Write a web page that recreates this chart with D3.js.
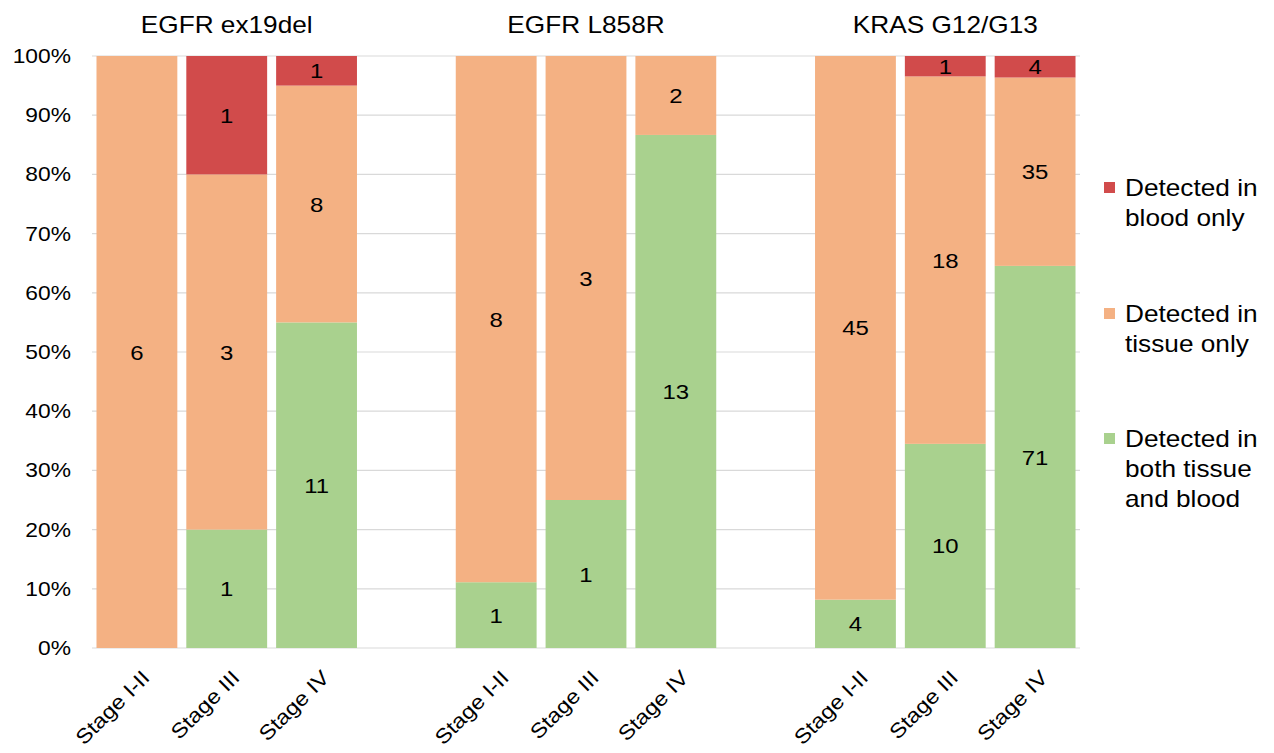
<!DOCTYPE html>
<html>
<head>
<meta charset="utf-8">
<script src="https://cdn.jsdelivr.net/npm/d3@7"></script>
<style>
  html, body { margin: 0; padding: 0; background: #fff; }
  svg { display: block; }
  text { font-family: "Liberation Sans", Arial, sans-serif; fill: #000; }
</style>
</head>
<body>
<svg id="chart" width="1274" height="753"></svg>
<script>
// Mutations and disease stages
const groups = ["EGFR ex19del", "EGFR L858R", "KRAS G12/G13"];
const stages = ["Stage I-II", "Stage III", "Stage IV"];

// Patient counts per bar, ordered group by group, stage by stage
const bothCounts   = [0, 1, 11,   1, 1, 13,   4, 10, 71];
const tissueCounts = [6, 3, 8,    8, 3, 2,    45, 18, 35];
const bloodCounts  = [0, 1, 1,    0, 0, 0,    0, 1, 4];

const seriesNames = ["Detected in both tissue and blood", "Detected in tissue only", "Detected in blood only"];
const seriesKeys = ["both", "tissue", "blood"];
const seriesColors = ["#a9d18e", "#f4b183", "#d14b4b"];
const yTicks = [0, 0.1, 0.2, 0.3, 0.4, 0.5, 0.6, 0.7, 0.8, 0.9, 1.0];

// Text is drawn slightly wide, like the rest of the figure
const STRETCH = 1.14;

// Build bar records; an empty slot sits between neighbouring groups
const bars = [];
const slots = [];
groups.forEach((g, gi) => {
  stages.forEach((s, si) => {
    const i = gi * 3 + si;
    const slot = `${g}|${s}`;
    slots.push(slot);
    const total = bothCounts[i] + tissueCounts[i] + bloodCounts[i];
    bars.push({ group: g, stage: s, slot, total,
      both: bothCounts[i], tissue: tissueCounts[i], blood: bloodCounts[i] });
  });
  if (gi < groups.length - 1) slots.push(`gap${gi}`);
});

const svg = d3.select("#chart");
const margin = { left: 92, right: 194, top: 56, bottom: 105 };
const width = 1274, height = 753;

const x = d3.scaleBand().domain(slots)
  .range([margin.left, width - margin.right]).paddingInner(0.1).paddingOuter(0.05);
const y = d3.scaleLinear().domain([0, 1]).range([height - margin.bottom, margin.top]);

// Horizontal gridlines
svg.append("g").selectAll("line").data(yTicks).join("line")
  .attr("x1", margin.left).attr("x2", width - margin.right)
  .attr("y1", d => y(d)).attr("y2", d => y(d))
  .attr("stroke", "#d9d9d9").attr("stroke-width", 1.2);

// Y axis labels
const yAxis = d3.axisLeft(y).tickValues(yTicks).tickFormat(d3.format(".0%")).tickSize(0).tickPadding(20);
const yG = svg.append("g").attr("transform", `translate(${margin.left},0)`).call(yAxis);
yG.select(".domain").remove();
yG.selectAll("text")
  .attr("x", 0)
  .attr("transform", `translate(-21,0) scale(${STRETCH},1)`)
  .attr("font-size", 20)
  .attr("font-family", "Liberation Sans, Arial, sans-serif")
  .attr("fill", "#000");

// Stacked percentages
const stack = d3.stack().keys(seriesKeys).offset(d3.stackOffsetExpand);
const stacked = stack(bars);

const layers = svg.append("g").selectAll("g").data(stacked).join("g")
  .attr("fill", (d, i) => seriesColors[i]);

layers.selectAll("rect").data(d => d.map(p => ({ p, key: d.key })))
  .join("rect")
  .attr("x", d => x(d.p.data.slot))
  .attr("width", x.bandwidth())
  .attr("y", d => y(d.p[1]))
  .attr("height", d => y(d.p[0]) - y(d.p[1]));

// Count labels in the middle of each segment
layers.selectAll("text").data(d => d.map(p => ({ p, key: d.key })).filter(d => d.p.data[d.key] > 0))
  .join("text")
  .attr("transform", d => `translate(${x(d.p.data.slot) + x.bandwidth() / 2},${(y(d.p[0]) + y(d.p[1])) / 2}) scale(${STRETCH},1)`)
  .attr("dy", "0.36em")
  .attr("text-anchor", "middle")
  .attr("font-size", 21)
  .style("fill", "#000")
  .text(d => d.p.data[d.key]);

// Rotated stage labels
svg.append("g").selectAll("text").data(bars).join("text")
  .attr("transform", d => `translate(${x(d.slot) + x.bandwidth() / 2 + 14},${y(0) + 31}) rotate(-45) scale(${STRETCH},1)`)
  .attr("text-anchor", "end")
  .attr("font-size", 20.5)
  .text(d => d.stage);

// Group titles above the middle bar of each group
svg.append("g").selectAll("text").data(groups).join("text")
  .attr("transform", g => `translate(${x(`${g}|${stages[1]}`) + x.bandwidth() / 2},33) scale(${STRETCH},1)`)
  .attr("text-anchor", "middle")
  .attr("font-size", 23)
  .text(g => g);

// Legend
const legendItems = [
  { color: seriesColors[2], lines: ["Detected in", "blood only"], y: 196 },
  { color: seriesColors[1], lines: ["Detected in", "tissue only"], y: 322 },
  { color: seriesColors[0], lines: ["Detected in", "both tissue", "and blood"], y: 447 }
];
const lg = svg.append("g").selectAll("g").data(legendItems).join("g")
  .attr("transform", d => `translate(1104,${d.y})`);
lg.append("rect").attr("x", 0).attr("y", -14).attr("width", 11).attr("height", 11)
  .attr("fill", d => d.color);
lg.selectAll("text").data(d => d.lines).join("text")
  .attr("transform", (d, i) => `translate(21,${i * 30}) scale(${STRETCH},1)`)
  .attr("font-size", 23)
  .text(d => d);
</script>
</body>
</html>
